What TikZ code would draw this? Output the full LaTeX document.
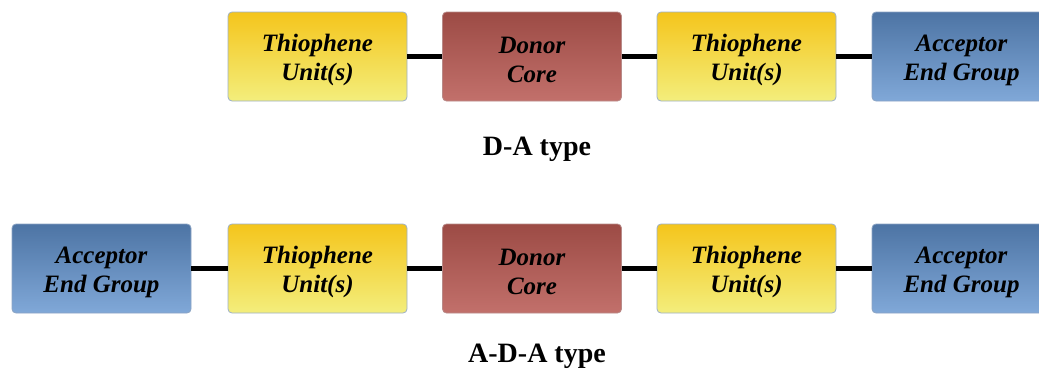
\documentclass[tikz,border=0pt]{standalone}
\usepackage{fontspec}
\setmainfont{Liberation Serif}
\newcommand\twoline[2]{\rule{0pt}{24pt}#1\\#2}
\begin{document}
\begin{tikzpicture}[x=1pt,y=-1pt,
  box/.style={rounded corners=4pt, minimum width=179pt, minimum height=89pt, inner sep=0pt,
    align=center, font=\fontsize{25}{29}\selectfont\bfseries\itshape, text=black, line width=0.8pt},
  thio/.style={box, draw=thioB, top color=thioT, bottom color=thioBot},
  donor/.style={box, draw=donB, top color=donT, bottom color=donBot},
  acc/.style={box, draw=accB, top color=accT, bottom color=accBot},
  link/.style={line width=5pt, black},
  lbl/.style={font=\fontsize{28}{30}\selectfont\bfseries}
]
\definecolor{thioT}{HTML}{F4C51C}
\definecolor{thioBot}{HTML}{F3EE7C}
\definecolor{thioB}{HTML}{9DB0C8}
\definecolor{donT}{HTML}{9C4B45}
\definecolor{donBot}{HTML}{C2706B}
\definecolor{donB}{HTML}{B88A88}
\definecolor{accT}{HTML}{4D74A4}
\definecolor{accBot}{HTML}{80A8D8}
\definecolor{accB}{HTML}{8CA4C4}
\useasboundingbox (0,0) rectangle (1039,370);
\clip (0,0) rectangle (1039,370);
% top row
\node[thio]  (t1) at (317.5,56.5) {\twoline{Thiophene}{Unit(s)}};
\node[donor] (d1) at (532,56.5) {\twoline{Donor}{Core}};
\node[thio]  (t2) at (746.5,56.5) {\twoline{Thiophene}{Unit(s)}};
\node[acc]   (a1) at (961.5,56.5) {\twoline{Acceptor}{End Group}};
\draw[link] (t1.east) -- (d1.west);
\draw[link] (d1.east) -- (t2.west);
\draw[link] (t2.east) -- (a1.west);
\node[lbl] (l1) at (537,149) {D-A type};
% bottom row
\node[acc]   (a2) at (101.5,268.5) {\twoline{Acceptor}{End Group}};
\node[thio]  (t3) at (317.5,268.5) {\twoline{Thiophene}{Unit(s)}};
\node[donor] (d2) at (532,268.5) {\twoline{Donor}{Core}};
\node[thio]  (t4) at (746.5,268.5) {\twoline{Thiophene}{Unit(s)}};
\node[acc]   (a3) at (961.5,268.5) {\twoline{Acceptor}{End Group}};
\draw[link] (a2.east) -- (t3.west);
\draw[link] (t3.east) -- (d2.west);
\draw[link] (d2.east) -- (t4.west);
\draw[link] (t4.east) -- (a3.west);
\node[lbl] (l2) at (537,356) {A-D-A type};
\end{tikzpicture}
\end{document}
